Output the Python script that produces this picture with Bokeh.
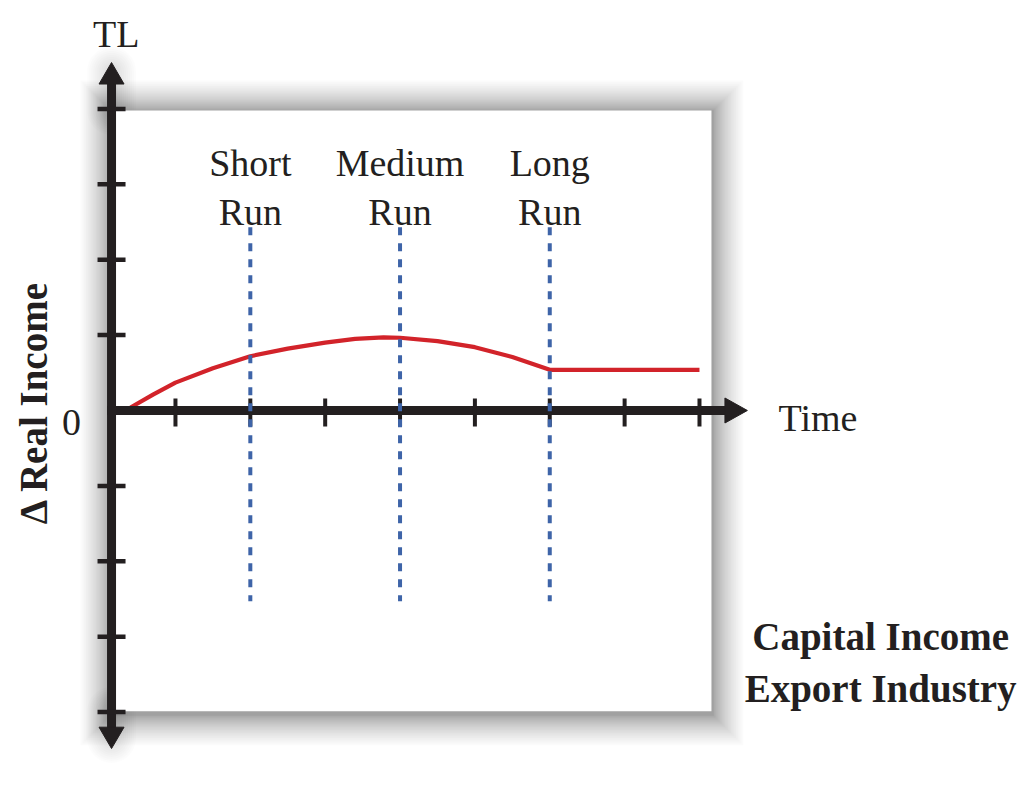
import numpy as np
from bokeh.plotting import figure
from bokeh.models import Range1d
from bokeh.core.properties import value
from bokeh.embed import file_html
from bokeh.resources import INLINE

# ---------------- data ----------------
time_ticks = [1, 2, 3, 4, 5, 6, 7, 8]
income_ticks = [-4, -3, -2, -1, 1, 2, 3, 4]
run_x = [2, 4, 6]
run_top = ["Short", "Medium", "Long"]
run_bottom = ["Run", "Run", "Run"]
curve_x = [0.40, 0.70, 1.00, 1.50, 2.00, 2.50, 3.00, 3.40, 3.78, 4.00, 4.50, 5.00, 5.50, 6.00, 8.00]
curve_y = [0.04, 0.21, 0.37, 0.56, 0.72, 0.82, 0.90, 0.95, 0.97, 0.965, 0.92, 0.84, 0.71, 0.54, 0.54]

# ---------------- layout ----------------
W, H = 1018, 788
X0, X1 = -1.3372, 12.2616
Y0, Y1 = -5.0133, 5.4377
PX = (X1 - X0) / W      # data units per pixel (x)
PY = (Y1 - Y0) / H      # data units per pixel (y)

AX_X = 0.146            # position of vertical axis
BOX = dict(left=0.13, right=8.16, bottom=-3.99, top=3.98)
AXIS_COLOR = "#231f20"
FONT = value("Liberation Serif")

p = figure(width=W, height=H, x_range=Range1d(X0, X1), y_range=Range1d(Y0, Y1),
           output_backend="svg", toolbar_location=None, min_border=0,
           x_axis_type=None, y_axis_type=None, outline_line_color=None)
p.grid.visible = False
p.background_fill_color = "white"
p.border_fill_color = "white"

# soft drop shadow of the white panel (layers concentrated near the edge)
n_layers = 26
for i in range(n_layers, 0, -1):
    d = 30.0 * (i / n_layers) ** 1.7
    p.quad(left=BOX["left"] - d * PX, right=BOX["right"] + d * PX + 2 * PX,
           bottom=BOX["bottom"] - d * PY - 4 * PY, top=BOX["top"] + d * PY,
           fill_color="black", fill_alpha=0.017, line_color=None)
# soft glow along vertical axis ends
for i in range(10, 0, -1):
    w = 9 + 4 * i
    p.segment(x0=[AX_X, AX_X], y0=[BOX["top"], BOX["bottom"]],
              x1=[AX_X, AX_X], y1=[4.50, -4.35],
              line_color="black", line_alpha=0.012, line_width=w, line_cap="round")

p.quad(**BOX, fill_color="white", line_color=None)

# curve
p.line(curve_x, curve_y, line_color="#d2232a", line_width=4.2, line_join="round")

# axes
p.segment(x0=[AX_X], y0=[4.40], x1=[AX_X], y1=[-4.30], line_color=AXIS_COLOR, line_width=9)
p.segment(x0=[AX_X - 4.5 * PX], y0=[0], x1=[8.40], y1=[0], line_color=AXIS_COLOR, line_width=9)

# arrow heads
hw_x, hw_y = 12.5 * PX, 12.5 * PY
p.patches(xs=[[AX_X - hw_x, AX_X, AX_X + hw_x],
              [AX_X - hw_x, AX_X, AX_X + hw_x],
              [8.34, 8.64, 8.34]],
          ys=[[4.33, 4.615, 4.33],
              [-4.20, -4.483, -4.20],
              [hw_y, 0, -hw_y]],
          fill_color=AXIS_COLOR, line_color=AXIS_COLOR, line_width=1)

# ticks
p.scatter(x=time_ticks, y=[-2 * PY] * len(time_ticks), marker="dash", size=28,
          angle=np.pi / 2, line_color=AXIS_COLOR, line_width=4)
p.scatter(x=[AX_X] * len(income_ticks), y=income_ticks, marker="dash", size=28,
          line_color=AXIS_COLOR, line_width=4.5)

# run separators
p.segment(x0=run_x, y0=[2.43] * 3, x1=run_x, y1=[-2.53] * 3,
          line_color="#3e64a8", line_width=4, line_dash="8 8")

# texts
p.text(x=run_x, y=[3.276] * 3, text=run_top, text_font=FONT, text_font_size="38px",
       text_align="center", text_baseline="alphabetic", text_color=AXIS_COLOR)
p.text(x=run_x, y=[2.639] * 3, text=run_bottom, text_font=FONT, text_font_size="38px",
       text_align="center", text_baseline="alphabetic", text_color=AXIS_COLOR)
p.text(x=[9.056], y=[-0.106], text=["Time"], text_font=FONT, text_font_size="38px",
       text_align="left", text_baseline="alphabetic", text_color=AXIS_COLOR)
p.text(x=[-0.389], y=[-0.159], text=["0"], text_font=FONT, text_font_size="38px",
       text_align="center", text_baseline="alphabetic", text_color=AXIS_COLOR)
p.text(x=[0.21], y=[5.0], text=["TL"], text_font=FONT, text_font_size="38px",
       text_align="center", text_baseline="alphabetic", text_color=AXIS_COLOR)
p.text(x=[-0.896], y=[0.106], text=["\u0394 Real Income"], text_font=FONT,
       text_font_size="39px", text_font_style="bold", angle=np.pi / 2,
       text_align="center", text_baseline="alphabetic", text_color=AXIS_COLOR)
p.text(x=[10.42, 10.42], y=[-3.0, -3.687], text=["Capital Income", "Export Industry"],
       text_font=FONT, text_font_size="39px", text_font_style="bold",
       text_align="center", text_baseline="alphabetic", text_color=AXIS_COLOR)

open("out.html", "w").write(file_html(p, INLINE))
